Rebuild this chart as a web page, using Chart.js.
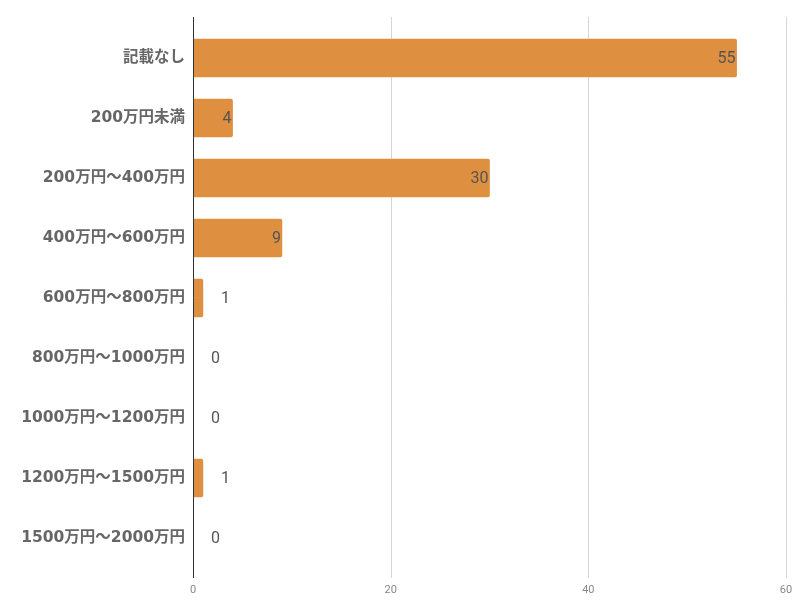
<!DOCTYPE html>
<html>
<head>
<meta charset="utf-8">
<script src="https://cdn.jsdelivr.net/npm/chart.js@4"></script>
<style>
  html, body { margin:0; padding:0; background:#fff; }
  #wrap { width:801px; height:614px; }
</style>
</head>
<body>
<div id="wrap"><canvas id="incomeChart" width="801" height="614"></canvas></div>
<script>
// data
const categories = ['記載なし','200万円未満','200万円～400万円','400万円～600万円','600万円～800万円','800万円～1000万円','1000万円～1200万円','1200万円～1500万円','1500万円～2000万円'];
const counts = [55, 4, 30, 9, 1, 0, 0, 1, 0];
const xTicks = [0, 20, 40, 60];

const BAR_COLOR = '#DE8F3F';

// grid lines + axis line, extended a bit past the category band
const gridPlugin = {
  id: 'extGrid',
  beforeDatasetsDraw(chart){
    const {ctx, chartArea, scales} = chart;
    ctx.save();
    ctx.lineWidth = 1;
    ctx.strokeStyle = '#d6d6d6';
    xTicks.forEach(v => {
      if(v === 0) return;
      const x = Math.round(scales.x.getPixelForValue(v)) + 0.5;
      ctx.beginPath();
      ctx.moveTo(x, chartArea.top - 11);
      ctx.lineTo(x, chartArea.bottom + 10);
      ctx.stroke();
    });
    ctx.restore();
  },
  afterDatasetsDraw(chart){
    const {ctx, chartArea, scales} = chart;
    ctx.save();
    const x = Math.round(scales.x.getPixelForValue(0)) + 0.5;
    ctx.strokeStyle = '#333';
    ctx.lineWidth = 1;
    ctx.beginPath();
    ctx.moveTo(x, chartArea.top - 11);
    ctx.lineTo(x, chartArea.bottom + 10);
    ctx.stroke();

    // value labels
    ctx.font = '16px Roboto';
    ctx.fillStyle = '#555';
    ctx.textBaseline = 'middle';
    const meta = chart.getDatasetMeta(0);
    meta.data.forEach((bar, i) => {
      const v = counts[i];
      if(v >= 4){
        ctx.textAlign = 'right';
        ctx.fillText(String(v), bar.x - 1, bar.y + 1);
      } else {
        ctx.textAlign = 'left';
        ctx.fillText(String(v), bar.x + 18, bar.y + 1);
      }
    });
    ctx.restore();
  }
};

const chart = new Chart(document.getElementById('incomeChart'), {
  type: 'bar',
  data: {
    labels: categories,
    datasets: [{
      data: counts,
      backgroundColor: BAR_COLOR,
      borderRadius: 2,
      borderSkipped: 'start',
      barThickness: 38
    }]
  },
  options: {
    indexAxis: 'y',
    responsive: false,
    animation: false,
    layout: { padding: { top: 28, right: 15, left: 0, bottom: 0 } },
    plugins: { legend: { display: false }, tooltip: { enabled: false } },
    scales: {
      x: {
        min: 0, max: 60,
        afterBuildTicks: s => { s.ticks = xTicks.map(v => ({ value: v })); },
        grid: { display: false },
        border: { display: false },
        afterFit: s => { s.height = 46; },
        ticks: { color: '#888', font: { family: 'Roboto', size: 11 }, padding: 8 }
      },
      y: {
        grid: { display: false },
        border: { display: false },
        afterFit: s => { s.width = 193; },
        ticks: { color: '#666', padding: 0, font: { family: '"DejaVu Sans", "Noto Sans CJK JP"', size: 15.5, weight: 'bold' } }
      }
    }
  },
  plugins: [gridPlugin]
});
</script>
</body>
</html>
